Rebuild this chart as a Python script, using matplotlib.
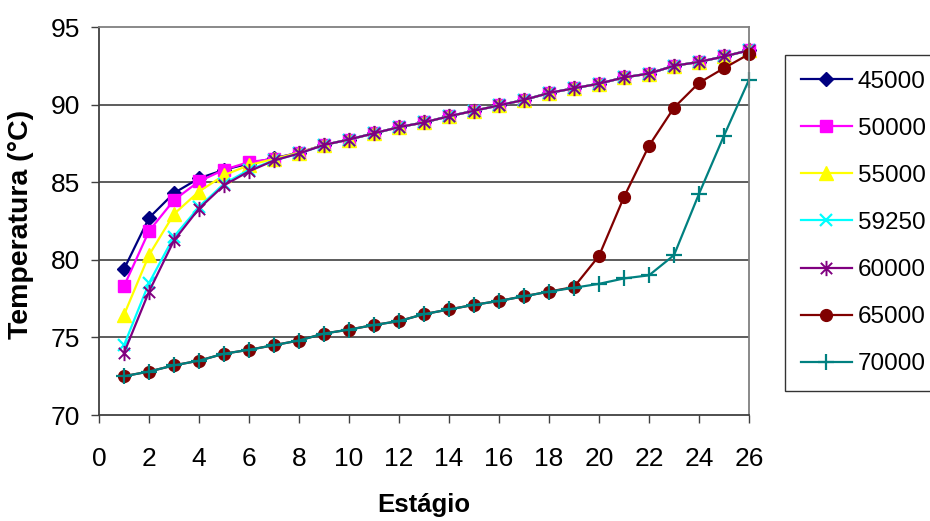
import matplotlib
matplotlib.use("Agg")
import matplotlib.pyplot as plt
from matplotlib.path import Path

plt.rcParams['font.family'] = ['Liberation Sans', 'DejaVu Sans']
FS = 19
LFS = 17.5

stages = list(range(1, 27))

s45000 = [79.4, 82.7, 84.3, 85.25, 85.8, 86.2, 86.55, 86.9, 87.4, 87.75, 88.15, 88.55, 88.85,
          89.25, 89.6, 89.95, 90.3, 90.75, 91.05, 91.35, 91.75, 92.0, 92.5, 92.75, 93.1, 93.5]
s50000 = [78.3, 81.85, 83.85, 85.05, 85.8, 86.3, 86.5, 86.9, 87.4, 87.75, 88.15, 88.55, 88.85,
          89.25, 89.6, 89.95, 90.3, 90.75, 91.05, 91.35, 91.75, 92.0, 92.5, 92.75, 93.1, 93.5]
s55000 = [76.45, 80.3, 82.95, 84.4, 85.45, 86.1, 86.5, 86.9, 87.4, 87.75, 88.15, 88.55, 88.85,
          89.25, 89.6, 89.95, 90.3, 90.75, 91.05, 91.35, 91.75, 92.0, 92.5, 92.75, 93.1, 93.5]
s59250 = [74.5, 78.5, 81.5, 83.4, 84.9, 85.8, 86.4, 86.85, 87.4, 87.75, 88.15, 88.55, 88.85,
          89.25, 89.6, 89.95, 90.3, 90.75, 91.05, 91.35, 91.75, 92.0, 92.5, 92.75, 93.1, 93.5]
s60000 = [74.0, 77.95, 81.25, 83.3, 84.8, 85.7, 86.4, 86.85, 87.4, 87.75, 88.15, 88.55, 88.85,
          89.25, 89.6, 89.95, 90.3, 90.75, 91.05, 91.35, 91.75, 92.0, 92.5, 92.75, 93.1, 93.5]
s65000 = [72.5, 72.8, 73.2, 73.5, 73.95, 74.2, 74.5, 74.8, 75.25, 75.5, 75.8, 76.05, 76.5,
          76.8, 77.1, 77.35, 77.65, 77.95, 78.25, 80.25, 84.05, 87.35, 89.8, 91.4, 92.35, 93.25]
s70000 = [72.5, 72.8, 73.2, 73.5, 73.95, 74.2, 74.5, 74.8, 75.25, 75.5, 75.8, 76.05, 76.5,
          76.8, 77.1, 77.35, 77.65, 77.95, 78.2, 78.45, 78.8, 79.0, 80.3, 84.25, 88.0, 91.6]

labels = ['45000', '50000', '55000', '59250', '60000', '65000', '70000']
series = [s45000, s50000, s55000, s59250, s60000, s65000, s70000]

xticks = list(range(0, 27, 2))
yticks = [70, 75, 80, 85, 90, 95]

# Excel-like asterisk marker (x plus vertical bar)
star = Path([(-1, -1), (1, 1), (-1, 1), (1, -1), (0, -1.35), (0, 1.35)],
            [Path.MOVETO, Path.LINETO, Path.MOVETO, Path.LINETO, Path.MOVETO, Path.LINETO])

styles = [
    dict(color='#000080', marker='D', ms=7.5, mfc='#000080', mec='#000080'),
    dict(color='#FF00FF', marker='s', ms=8.5, mfc='#FF00FF', mec='#FF00FF'),
    dict(color='#FFFF00', marker='^', ms=9.5, mfc='#FFFF00', mec='#FFFF00'),
    dict(color='#00FFFF', marker='x', ms=9, mew=1.6, mec='#00FFFF'),
    dict(color='#800080', marker=star, ms=11, mew=1.4, mfc='none', mec='#800080'),
    dict(color='#800000', marker='o', ms=8.5, mfc='#800000', mec='#800000'),
    dict(color='#008080', marker='+', ms=11, mew=1.6, mec='#008080'),
]

fig = plt.figure(figsize=(9.3, 5.21), dpi=100)
ax = fig.add_axes([99/930, 1-415/521, 650/930, 388/521])

for lab, ys, st in zip(labels, series, styles):
    ax.plot(stages, ys, lw=1.6, label=lab, clip_on=False, **st)

ax.set_xlim(0, 26)
ax.set_ylim(70, 95)
ax.set_xticks(xticks)
ax.set_yticks(yticks)
ax.tick_params(axis='both', direction='out', length=5.8, width=1, color='#404040',
               labelsize=FS)
ax.tick_params(axis='x', pad=17)
ax.tick_params(axis='y', pad=8)

for yv in [75, 80, 85, 90]:
    ax.axhline(yv, color='#303030', lw=1.1, zorder=0)

for s in ['left', 'bottom']:
    ax.spines[s].set_color('#404040')
    ax.spines[s].set_linewidth(1.3)
for s in ['top', 'right']:
    ax.spines[s].set_color('#808080')
    ax.spines[s].set_linewidth(1.3)

ax.set_xlabel('Estágio', fontsize=18.5, fontweight='bold')
ax.xaxis.set_label_coords(0.5, -0.2)
ax.set_ylabel('Temperatura (°C)', fontsize=20.5, fontweight='bold')
ax.yaxis.set_label_coords(-0.1, 0.49)

leg = fig.legend(loc='upper left', bbox_to_anchor=(785/930, 1-55/521),
                 bbox_transform=fig.transFigure, borderaxespad=0,
                 fontsize=LFS, frameon=True, fancybox=False, edgecolor='black',
                 handlelength=2.1, handletextpad=0.25, labelspacing=1.03,
                 borderpad=0.65)
leg.get_frame().set_linewidth(1.0)

fig.savefig('out.png', dpi=100)
